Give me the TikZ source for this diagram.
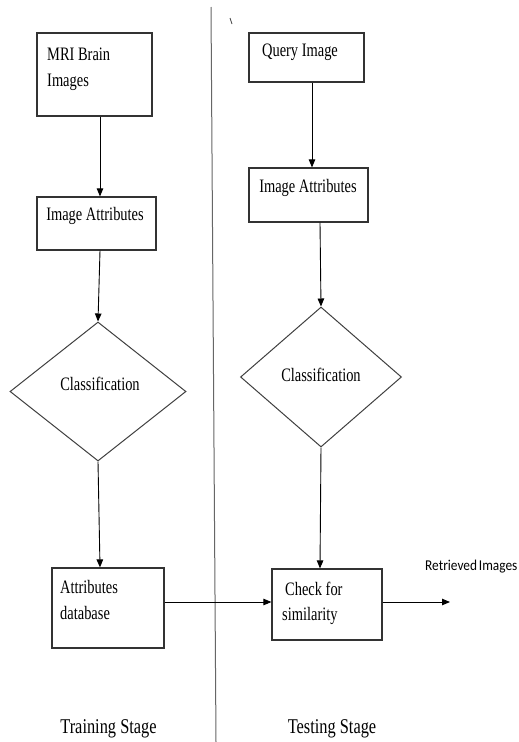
\documentclass[tikz,border=0pt]{standalone}
\usepackage{fontspec}
\setmainfont{Liberation Serif}
\newfontfamily\retfont{Carlito}
\usetikzlibrary{arrows.meta,shapes.geometric}
\newcommand{\sq}[1]{\scalebox{0.76}[1]{#1}}
\begin{document}
\begin{tikzpicture}[x=1pt,y=-1pt,
  box/.style={draw=black!80,line width=1.2pt,rectangle,inner sep=0pt},
  dia/.style={draw=black!75,line width=1pt,diamond,inner sep=0pt,minimum width=#1},
  txt/.style={font=\fontsize{19}{26}\selectfont,inner sep=0pt,align=left},
  stage/.style={font=\fontsize{21}{26}\selectfont,inner sep=0pt},
  conn/.style={draw=black,line width=0.9pt,-{Triangle[length=8pt,width=6.5pt]}},
  plain/.style={draw=black,line width=0.9pt}]
\useasboundingbox (0,0) rectangle (519,742);
\fill[white] (0,0) rectangle (519,742);
% divider
\coordinate (dtop) at (211,7);
\coordinate (dbot) at (216,742);
\draw[black!60,line width=1pt] (dtop) -- (dbot);
\coordinate (tk1) at (230,18);
\coordinate (tk2) at (232,24);
\draw[black!70,line width=0.8pt] (tk1) -- (tk2);
% left column
\node[box,minimum width=115pt,minimum height=83pt] (mri) at (94.5,74.5) {};
\node[txt,anchor=base west] (mrit) at (47,60) {\sq{MRI Brain}};
\node[txt,anchor=base west] (mrit2) at (47,86) {\sq{Images}};
\node[box,minimum width=119pt,minimum height=53pt] (lia) at (96.5,223.5) {};
\node[txt] (liat) at (95,216) {\sq{Image Attributes}};
\node[dia,minimum width=176pt,minimum height=139pt,aspect=1.27] (ld) at (98,391.5) {};
\node[txt] (ldt) at (100,384) {\sq{Classification}};
\node[box,minimum width=112pt,minimum height=80pt] (adb) at (108,608) {};
\node[txt,anchor=base west] (adbt) at (60,593) {\sq{Attributes}};
\node[txt,anchor=base west] (adbt2) at (60,619) {\sq{database}};
% right column
\node[box,minimum width=115pt,minimum height=49pt] (qry) at (306.5,57.5) {};
\node[txt] (qryt) at (300,52) {\sq{Query Image}};
\node[box,minimum width=119pt,minimum height=54pt] (ria) at (308.5,195) {};
\node[txt] (riat) at (308,188) {\sq{Image Attributes}};
\node[dia,minimum width=161pt,minimum height=140pt,aspect=1.15] (rd) at (321,377) {};
\node[txt] (rdt) at (321,375) {\sq{Classification}};
\node[box,minimum width=110pt,minimum height=71pt] (chk) at (327,604.5) {};
\node[txt,anchor=base west] (chkt) at (285,595) {\sq{Check for}};
\node[txt,anchor=base west] (chkt2) at (282,620) {\sq{similarity}};
\coordinate (out) at (450,602);
\node[inner sep=0pt,anchor=base west,font=\retfont\fontsize{15}{18}\selectfont] (ret) at (425,570) {\scalebox{0.89}[1]{Retrieved\hspace{2pt}Images}};
% stage labels
\node[stage] (trs) at (108.5,729) {\scalebox{0.78}[1]{Training Stage}};
\node[stage] (tes) at (332,729) {\scalebox{0.78}[1]{Testing Stage}};
% connectors
\coordinate (lx) at (100,0);
\coordinate (rx) at (320,0);
\coordinate (qx) at (312,0);
\draw[conn] (mri.south -| lx) -- (lia.north -| lx);
\draw[conn] (lia.south -| lx) -- (ld.north);
\draw[conn] (ld.south) -- (adb.north -| lx);
\draw[conn] (qry.south -| qx) -- (ria.north -| qx);
\draw[conn] (ria.south -| rx) -- (rd.north);
\draw[conn] (rd.south) -- (chk.north -| rx);
\coordinate (my) at (0,602);
\draw[conn] (adb.east |- my) -- (chk.west |- my);
\draw[conn] (chk.east |- my) -- (out);
\end{tikzpicture}
\end{document}
